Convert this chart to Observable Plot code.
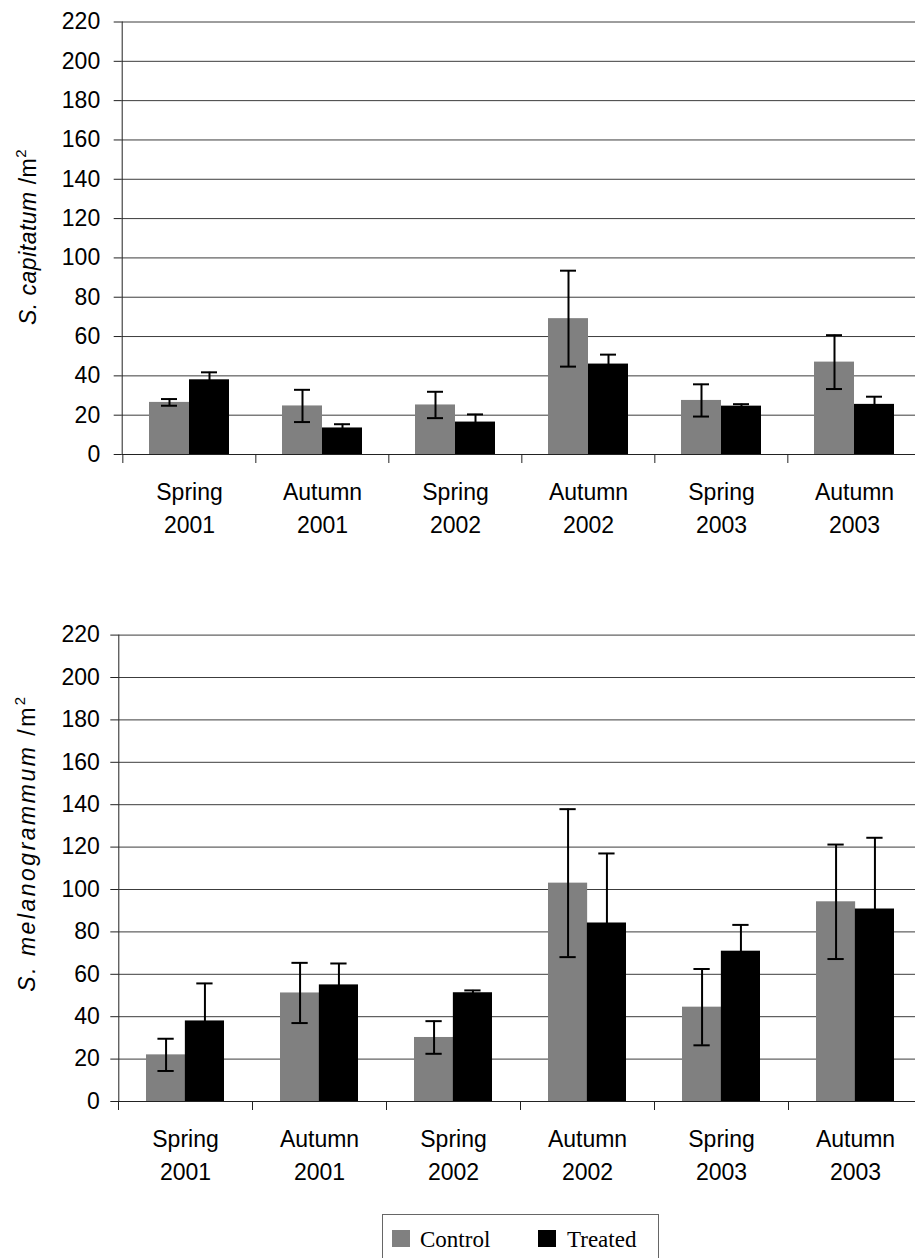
<!DOCTYPE html>
<html>
<head>
<meta charset="utf-8">
<script src="https://cdn.jsdelivr.net/npm/d3@7"></script>
<script src="https://cdn.jsdelivr.net/npm/@observablehq/plot@0.6"></script>
<style>
  html, body { margin: 0; padding: 0; background: #fff; overflow: hidden; }
  #page { position: relative; width: 915px; height: 1258px; font-family: "Liberation Sans", Arial, sans-serif; }
  .chart { position: absolute; left: 0; }
  #legend {
    position: absolute; left: 382px; top: 1214px; width: 277px; height: 70px;
    border: 1px solid #666; box-sizing: border-box;
    font-family: "Liberation Serif", "Times New Roman", serif; font-size: 23px; color: #000;
  }
  #legend .sw { position: absolute; width: 18px; height: 17px; }
  #legend .lab { position: absolute; line-height: 1; }
</style>
</head>
<body>
<div id="page"></div>
<script>
// Sampling occasions (x categories)
const categories = ["Spring 2001", "Autumn 2001", "Spring 2002", "Autumn 2002", "Spring 2003", "Autumn 2003"];

// Y-axis ticks (individuals per m²)
const yTicks = [0, 20, 40, 60, 80, 100, 120, 140, 160, 180, 200, 220];

// Series names and fills
const seriesNames = ["Control", "Treated"];
const seriesColors = ["#808080", "#000000"];

// S. capitatum: means and error
const capControl = [26.5, 24.7, 25.2, 69.1, 27.5, 47.0];
const capControlErr = [1.7, 8.2, 6.7, 24.4, 8.2, 13.7];
const capTreated = [38.0, 13.5, 16.5, 46.0, 24.6, 25.5];
const capTreatedErr = [3.8, 1.9, 3.9, 4.8, 1.0, 3.9];

// S. melanogrammum: means and error
const melControl = [22.0, 51.2, 30.2, 103.0, 44.5, 94.2];
const melControlErr = [7.6, 14.2, 7.7, 34.9, 18.0, 27.0];
const melTreated = [38.0, 55.0, 51.3, 84.2, 70.9, 90.8];
const melTreatedErr = [17.7, 10.1, 1.1, 32.8, 12.4, 33.6];

const FONT = "Liberation Sans, Arial, sans-serif";

function groupedChart(opts) {
  const {species, control, controlErr, treated, treatedErr,
         height, marginTop, marginBottom, x0, x1, padding, tickPadding,
         titleX, titleY, titleSpacing} = opts;
  const rows = categories.map((c, i) => ({
    cat: c,
    control: control[i], cErr: controlErr[i],
    treated: treated[i], tErr: treatedErr[i]
  }));
  const step = (x1 - x0) / categories.length;
  const bw = step * (1 - padding);     // width of a bar pair
  const half = bw / 2;                 // width of one bar
  const cap = 8;                       // half-width of error-bar caps
  const errStyle = {stroke: "#000", strokeWidth: 2};

  const plot = Plot.plot({
    width: 915,
    height,
    marginTop,
    marginBottom,
    marginLeft: x0,
    marginRight: 0,
    style: {fontFamily: FONT, fontSize: "23px", color: "#000", background: "transparent"},
    x: {type: "band", domain: categories, range: [x0, x1], paddingInner: padding, paddingOuter: padding / 2, axis: null},
    y: {domain: [0, 220], axis: null},
    marks: [
      // horizontal gridlines
      Plot.ruleY(yTicks.slice(1), {stroke: "#3c3c3c", strokeWidth: 1}),
      // bars
      Plot.barY(rows, {x: "cat", y: "control", fill: seriesColors[0], insetRight: half}),
      Plot.barY(rows, {x: "cat", y: "treated", fill: seriesColors[1], insetLeft: half}),
      // error bars: control
      Plot.ruleX(rows, {x: "cat", y1: d => d.control - d.cErr, y2: d => d.control + d.cErr, dx: -half / 2, ...errStyle}),
      Plot.tickY(rows, {x: "cat", y: d => d.control + d.cErr, insetLeft: half / 2 - cap, insetRight: bw - half / 2 - cap, ...errStyle}),
      Plot.tickY(rows, {x: "cat", y: d => d.control - d.cErr, insetLeft: half / 2 - cap, insetRight: bw - half / 2 - cap, ...errStyle}),
      // error bars: treated
      Plot.ruleX(rows, {x: "cat", y1: d => d.treated - d.tErr, y2: d => d.treated + d.tErr, dx: half / 2, ...errStyle}),
      Plot.tickY(rows, {x: "cat", y: d => d.treated + d.tErr, insetLeft: bw - half / 2 - cap, insetRight: half / 2 - cap, ...errStyle}),
      Plot.tickY(rows, {x: "cat", y: d => d.treated - d.tErr, insetLeft: bw - half / 2 - cap, insetRight: half / 2 - cap, ...errStyle}),
      // baseline and y axis line
      Plot.ruleY([0], {stroke: "#222", strokeWidth: 1}),
      Plot.frame({anchor: "left", stroke: "#222"}),
      Plot.axisY({ticks: yTicks, tickSize: 8, tickPadding, fontSize: 23, label: null, stroke: "#222", tickFormat: d => String(d)}),
      // category boundary ticks below the baseline
      Plot.ruleX(categories, {x: d => d, y1: 0, y2: 0, insetTop: 9, dx: -step / 2, stroke: "#222"}),
      // two-line category labels
      Plot.text(categories, {x: d => d, y: 0, text: d => d.split(" ")[0], dy: 38, fontSize: 23}),
      Plot.text(categories, {x: d => d, y: 0, text: d => d.split(" ")[1], dy: 71, fontSize: 23})
    ]
  });

  // y-axis title: italic species name followed by the unit
  const t = d3.select(plot).append("text")
    .attr("transform", `translate(${titleX},${titleY}) rotate(-90)`)
    .attr("text-anchor", "middle")
    .attr("font-family", FONT)
    .attr("font-size", 23)
    .attr("letter-spacing", titleSpacing)
    .attr("fill", "#000");
  t.append("tspan").attr("font-style", "italic").text(species);
  t.append("tspan").text(" /m");
  t.append("tspan").attr("font-size", 15).attr("dy", -10).text("2");
  return plot;
}

const page = document.getElementById("page");

const capChart = groupedChart({
  species: "S. capitatum",
  control: capControl, controlErr: capControlErr,
  treated: capTreated, treatedErr: capTreatedErr,
  height: 580, marginTop: 21.5, marginBottom: 126,
  x0: 121.7, x1: 921.7, padding: 0.4, tickPadding: 14,
  titleX: 36, titleY: 237, titleSpacing: 0.5
});
capChart.classList.add("chart");
capChart.style.top = "0px";
page.appendChild(capChart);

const melChart = groupedChart({
  species: "S. melanogrammum",
  control: melControl, controlErr: melControlErr,
  treated: melTreated, treatedErr: melTreatedErr,
  height: 620, marginTop: 44.6, marginBottom: 109,
  x0: 118.3, x1: 922.3, padding: 0.42, tickPadding: 11,
  titleX: 35, titleY: 253, titleSpacing: 2.5
});
melChart.classList.add("chart");
melChart.style.top = "590px";
page.appendChild(melChart);

// legend box
const legend = document.createElement("div");
legend.id = "legend";
const legendPos = [{sw: 9, lab: 37}, {sw: 155, lab: 184}];
seriesNames.forEach((name, i) => {
  const sw = document.createElement("div");
  sw.className = "sw";
  sw.style.left = legendPos[i].sw + "px";
  sw.style.top = "15px";
  sw.style.background = seriesColors[i];
  legend.appendChild(sw);
  const lab = document.createElement("div");
  lab.className = "lab";
  lab.style.left = legendPos[i].lab + "px";
  lab.style.top = "13px";
  lab.textContent = name;
  legend.appendChild(lab);
});
page.appendChild(legend);
</script>
</body>
</html>
